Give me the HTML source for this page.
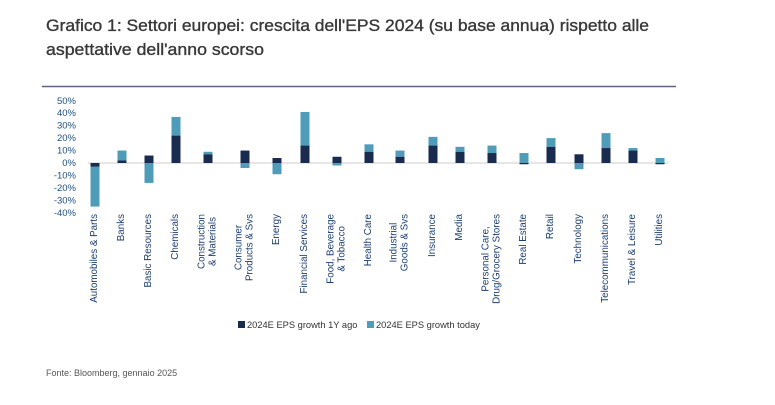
<!DOCTYPE html>
<html><head><meta charset="utf-8"><style>
body{margin:0;background:#fff;width:775px;height:405px;overflow:hidden;position:relative;font-family:"Liberation Sans",sans-serif}
.lab{position:absolute;top:214px;transform-origin:0 0;transform:rotate(-90deg) translate(-100%,-50%);font-size:9.8px;line-height:10.5px;color:#1d3f6e;text-align:center;white-space:nowrap}
</style></head><body>
<svg width="775" height="405" style="position:absolute;left:0;top:0" font-family="Liberation Sans,sans-serif">
<text x="46" y="31" font-size="16.5" fill="#383838" stroke="#383838" stroke-width="0.35" textLength="603" lengthAdjust="spacingAndGlyphs">Grafico 1: Settori europei: crescita dell'EPS 2024 (su base annua) rispetto alle</text>
<text x="46" y="55" font-size="16.5" fill="#383838" stroke="#383838" stroke-width="0.35" textLength="218" lengthAdjust="spacingAndGlyphs">aspettative dell'anno scorso</text>
<line x1="42" y1="86.5" x2="676" y2="86.5" stroke="#5d6585" stroke-width="1.5"/>
<g font-size="9.5" fill="#1d4f80" text-anchor="end" id="yt"></g>
<line x1="88" y1="163" x2="668" y2="163" stroke="#ccc" stroke-width="1"/>
<g id="bars"></g>
<rect x="238" y="321" width="7" height="7" fill="#1a2b50"/>
<text x="247" y="328" font-size="9.3" fill="#333">2024E EPS growth 1Y ago</text>
<rect x="367" y="321" width="7" height="7" fill="#4f9cb9"/>
<text x="376" y="328" font-size="9.3" fill="#333">2024E EPS growth today</text>
<text x="46" y="376" font-size="9" fill="#555">Fonte: Bloomberg, gennaio 2025</text>
</svg>
<div id="labs"></div>
<script>
var z=163,s=1.245;
var yt=document.getElementById('yt'),h='';
for(var v=50;v>=-40;v-=10){h+='<text x="76" y="'+(z-v*s+3)+'">'+v+'%</text>';}
yt.innerHTML=h;
var d=[["Automobiles & Parts",95,-3,-35],["Banks",122,2,10],["Basic Resources",149,6,-16],["Chemicals",176,22,37],["Construction<br>& Materials",208,7,9],["Consumer<br>Products & Svs",245,10,-4],["Energy",277,4,-9],["Financial Services",305,14,41],["Food, Beverage<br>& Tobacco",337,5,-2],["Health Care",369,9,15],["Industrial<br>Goods & Svs",400,5,10],["Insurance",433,14,21],["Media",460,9,13],["Personal Care,<br>Drug/Grocery Stores",492,8,14],["Real Estate",524,-1,8],["Retail",551,13,20],["Technology",579,7,-5],["Telecommunications",606,12,24],["Travel & Leisure",633,10,12],["Utilities",660,-1,4]];
var b='',l='';
d.forEach(function(r){var x=r[1]-4.5,w=9;
 var a=r[3]>=0?Math.max(r[2],0):Math.min(r[2],0);
 var y1=z-Math.max(a,r[3])*s,y2=z-Math.min(a,r[3])*s;
 b+='<rect x="'+x+'" y="'+y1+'" width="'+w+'" height="'+(y2-y1)+'" fill="#4f9cb9"/>';
 var d1=z-Math.max(0,r[2])*s,d2=z-Math.min(0,r[2])*s;
 b+='<rect x="'+x+'" y="'+d1+'" width="'+w+'" height="'+(d2-d1)+'" fill="#1a2b50"/>';
 l+='<div class="lab" style="left:'+r[1]+'px">'+r[0]+'</div>';
});
document.getElementById('bars').innerHTML=b;
document.getElementById('labs').innerHTML=l;
</script>
</body></html>
